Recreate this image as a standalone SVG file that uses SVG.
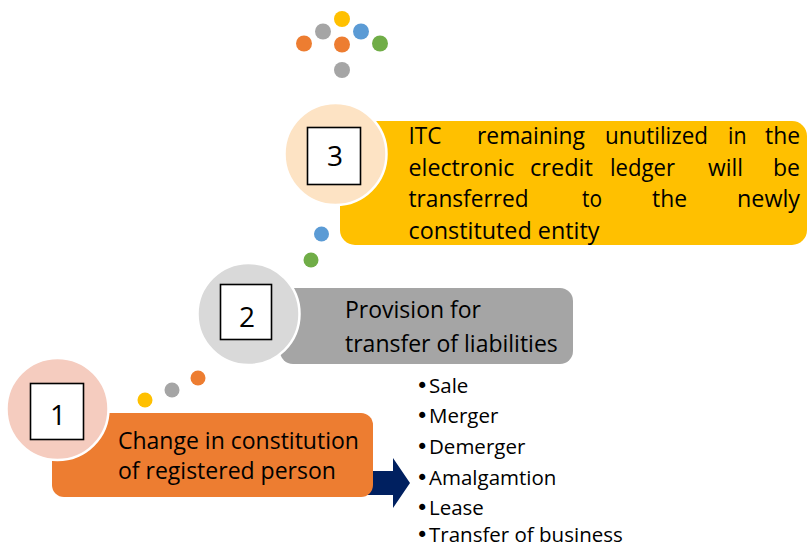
<svg xmlns="http://www.w3.org/2000/svg" width="808" height="547" viewBox="0 0 808 547">
<style>
  .t { font-family: "Open Sans", "Liberation Sans", sans-serif; fill: #000; }
  .lbl { font-size: 23px; }
  .num { font-size: 28px; text-anchor: middle; }
  .bul { font-size: 20.5px; }
  .dot { font-family: "DejaVu Sans", sans-serif; font-size: 21px; }
  .box { fill: #fff; stroke: #000; stroke-width: 1.6; }
  .ring { stroke: #fff; stroke-width: 2.5; }
</style>
<rect width="808" height="547" fill="#fff"/>

<g id="connectors">
  <g id="top-dots">
    <circle cx="342" cy="19" r="8" fill="#FFC000"/>
    <circle cx="323" cy="31.5" r="8" fill="#A5A5A5"/>
    <circle cx="361" cy="31.5" r="8" fill="#5B9BD5"/>
    <circle cx="304" cy="43.5" r="8" fill="#ED7D31"/>
    <circle cx="342" cy="44.5" r="8" fill="#ED7D31"/>
    <circle cx="380" cy="43.5" r="8" fill="#70AD47"/>
    <circle cx="342" cy="70" r="8" fill="#A5A5A5"/>
  </g>
  <circle cx="321.5" cy="234" r="7.5" fill="#5B9BD5"/>
  <circle cx="311" cy="260" r="7.5" fill="#70AD47"/>
  <circle cx="145" cy="400" r="7.5" fill="#FFC000"/>
  <circle cx="172" cy="390" r="7.5" fill="#A5A5A5"/>
  <circle cx="198" cy="378" r="7.5" fill="#ED7D31"/>
  <path id="arrow" d="M366,471 H393 V458 L410,483 L393,508 V495 H366 Z" fill="#002060"/>
</g>

<g id="node3">
  <rect x="340" y="121" width="467" height="124" rx="15" fill="#FFC000"/>
  <circle class="ring" cx="335.5" cy="154" r="51" fill="#FDE3C4"/>
  <rect class="box" x="307.5" y="127.5" width="53" height="57"/>
  <text class="t num" x="335" y="166">3</text>
  <g class="t lbl">
    <text x="408.5" y="144" textLength="33" lengthAdjust="spacingAndGlyphs">ITC</text>
    <text x="477" y="144" textLength="108" lengthAdjust="spacingAndGlyphs">remaining</text>
    <text x="605" y="144" textLength="103" lengthAdjust="spacingAndGlyphs">unutilized</text>
    <text x="728" y="144" textLength="18.5" lengthAdjust="spacingAndGlyphs">in</text>
    <text x="765" y="144" textLength="35" lengthAdjust="spacingAndGlyphs">the</text>
    <text x="408.5" y="175.5" textLength="106" lengthAdjust="spacingAndGlyphs">electronic</text>
    <text x="530" y="175.5" textLength="63" lengthAdjust="spacingAndGlyphs">credit</text>
    <text x="610" y="175.5" textLength="65" lengthAdjust="spacingAndGlyphs">ledger</text>
    <text x="708" y="175.5" textLength="35" lengthAdjust="spacingAndGlyphs">will</text>
    <text x="773" y="175.5" textLength="27" lengthAdjust="spacingAndGlyphs">be</text>
    <text x="408.5" y="207.3" textLength="120" lengthAdjust="spacingAndGlyphs">transferred</text>
    <text x="582" y="207.3" textLength="20" lengthAdjust="spacingAndGlyphs">to</text>
    <text x="652" y="207.3" textLength="35" lengthAdjust="spacingAndGlyphs">the</text>
    <text x="737" y="207.3" textLength="63" lengthAdjust="spacingAndGlyphs">newly</text>
    <text x="408.5" y="239" textLength="191" lengthAdjust="spacingAndGlyphs">constituted entity</text>
  </g>
</g>

<g id="node2">
  <rect x="280" y="288" width="293" height="76" rx="13" fill="#A5A5A5"/>
  <circle class="ring" cx="248.5" cy="314" r="51" fill="#D9D9D9"/>
  <rect class="box" x="220.5" y="284.5" width="51" height="55"/>
  <text class="t num" x="247" y="327">2</text>
  <text class="t lbl" x="345" y="318">Provision for</text>
  <text class="t lbl" x="345" y="352">transfer of liabilities</text>
</g>

<g id="node1">
  <rect x="52" y="413" width="321" height="84" rx="12" fill="#ED7D31"/>
  <circle class="ring" cx="57.5" cy="409" r="51" fill="#F5CCBF"/>
  <rect class="box" x="30.5" y="383.5" width="53" height="56"/>
  <text class="t num" x="58" y="425">1</text>
  <text class="t lbl" x="118" y="449">Change in constitution</text>
  <text class="t lbl" x="118" y="479">of registered person</text>
</g>

<g id="list">
  <text class="t bul" x="416" y="392.5"><tspan class="dot">•</tspan><tspan x="429">Sale</tspan></text>
  <text class="t bul" x="416" y="423"><tspan class="dot">•</tspan><tspan x="429">Merger</tspan></text>
  <text class="t bul" x="416" y="453.5"><tspan class="dot">•</tspan><tspan x="429">Demerger</tspan></text>
  <text class="t bul" x="416" y="484.5"><tspan class="dot">•</tspan><tspan x="429">Amalgamtion</tspan></text>
  <text class="t bul" x="416" y="515"><tspan class="dot">•</tspan><tspan x="429">Lease</tspan></text>
  <text class="t bul" x="416" y="542"><tspan class="dot">•</tspan><tspan x="429">Transfer of business</tspan></text>
</g>
</svg>
